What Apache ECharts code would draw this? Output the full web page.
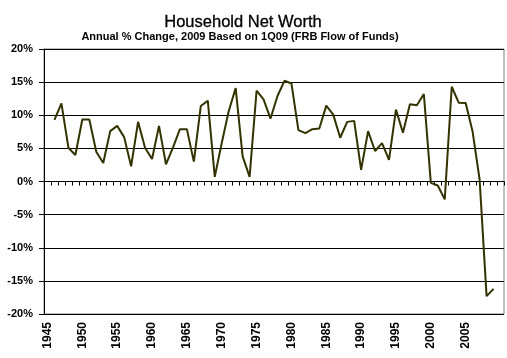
<!DOCTYPE html>
<html>
<head>
<meta charset="utf-8">
<script src="https://cdn.jsdelivr.net/npm/echarts@6/dist/echarts.min.js"></script>
<style>
html,body{margin:0;padding:0;background:#fff;}
#c{width:507px;height:358px;}
</style>
</head>
<body>
<div id="c"></div>
<script>
var titleText = 'Household Net Worth';
var subtitleText = 'Annual % Change, 2009 Based on 1Q09 (FRB Flow of Funds)';
var years = [];
for (var y = 1945; y <= 2010; y++) years.push(String(y));
var labelYears = ['1945','1950','1955','1960','1965','1970','1975','1980','1985','1990','1995','2000','2005'];
// Annual % change, 1946..2009
var dataYears = [];
for (var y2 = 1946; y2 <= 2009; y2++) dataYears.push(String(y2));
var netWorthChange = [
  9.3, 11.8, 5.1, 4.0, 9.35, 9.35, 4.5, 2.8, 7.6, 8.4,
  6.7, 2.3, 9.0, 5.1, 3.4, 8.4, 2.6, 5.1, 7.9, 7.9,
  3.0, 11.4, 12.2, 0.7, 5.8, 10.6, 14.1, 3.8, 0.7, 13.7,
  12.4, 9.5, 12.9, 15.2, 14.8, 7.75, 7.3, 7.9, 8.0, 11.45,
  10.1, 6.6, 9.0, 9.15, 1.75, 7.6, 4.6, 5.8, 3.25, 10.85,
  7.35, 11.65, 11.5, 13.2, -0.2, -0.6, -2.7, 14.3, 11.9, 11.85,
  7.5, 0.3, -17.3, -16.2
];
var yTicks = [-20, -15, -10, -5, 0, 5, 10, 15, 20];

var seriesData = years.map(function (yr) {
  var i = dataYears.indexOf(yr);
  return i >= 0 ? netWorthChange[i] : null;
});

var font = 'Liberation Sans, Arial, sans-serif';
var chart = echarts.init(document.getElementById('c'), null, {renderer: 'canvas'});
chart.setOption({
  animation: false,
  backgroundColor: '#ffffff',
  graphic: [
    {type: 'text', x: 243, y: 22.5, style: {text: titleText, font: '16.5px ' + font, fill: '#000', textAlign: 'center', textVerticalAlign: 'middle', stroke: '#000', lineWidth: 0.3}},
    {type: 'text', x: 240, y: 37, style: {text: subtitleText, font: 'bold 11px ' + font, fill: '#000', textAlign: 'center', textVerticalAlign: 'middle'}}
  ],
  grid: {left: 44, right: 3, top: 49, bottom: 44, show: true, borderColor: '#808080', borderWidth: 1, backgroundColor: 'transparent'},
  xAxis: [
    {
      type: 'category', data: years, boundaryGap: true, position: 'bottom',
      axisLine: {show: false, onZero: false},
      axisTick: {show: false},
      splitLine: {show: false},
      axisLabel: {
        rotate: 90, margin: 8, color: '#000', fontFamily: font, fontWeight: 'bold', fontSize: 12,
        interval: function (idx, val) { return labelYears.indexOf(val) >= 0; }
      }
    },
    {
      type: 'category', data: years, boundaryGap: true, position: 'top',
      axisLine: {show: true, onZero: true, lineStyle: {color: '#000', width: 1}},
      axisTick: {show: true, inside: true, length: 4, interval: 0, lineStyle: {color: '#000'}},
      axisLabel: {show: false},
      splitLine: {show: false}
    }
  ],
  yAxis: {
    type: 'value', min: -20, max: 20, interval: 5,
    axisLine: {show: true, lineStyle: {color: '#000', width: 1}},
    axisTick: {show: true, length: 5, lineStyle: {color: '#000'}},
    splitLine: {show: true, lineStyle: {color: '#000', width: 1}},
    axisLabel: {
      margin: 11, color: '#000', fontFamily: font, fontWeight: 'bold', fontSize: 11,
      formatter: function (v) { return yTicks.indexOf(v) >= 0 ? v + '%' : ''; }
    }
  },
  series: [{
    type: 'line', xAxisIndex: 0, data: seriesData, symbol: 'none', connectNulls: false,
    lineStyle: {color: '#333300', width: 2}, itemStyle: {color: '#333300'}
  }]
});
</script>
</body>
</html>
